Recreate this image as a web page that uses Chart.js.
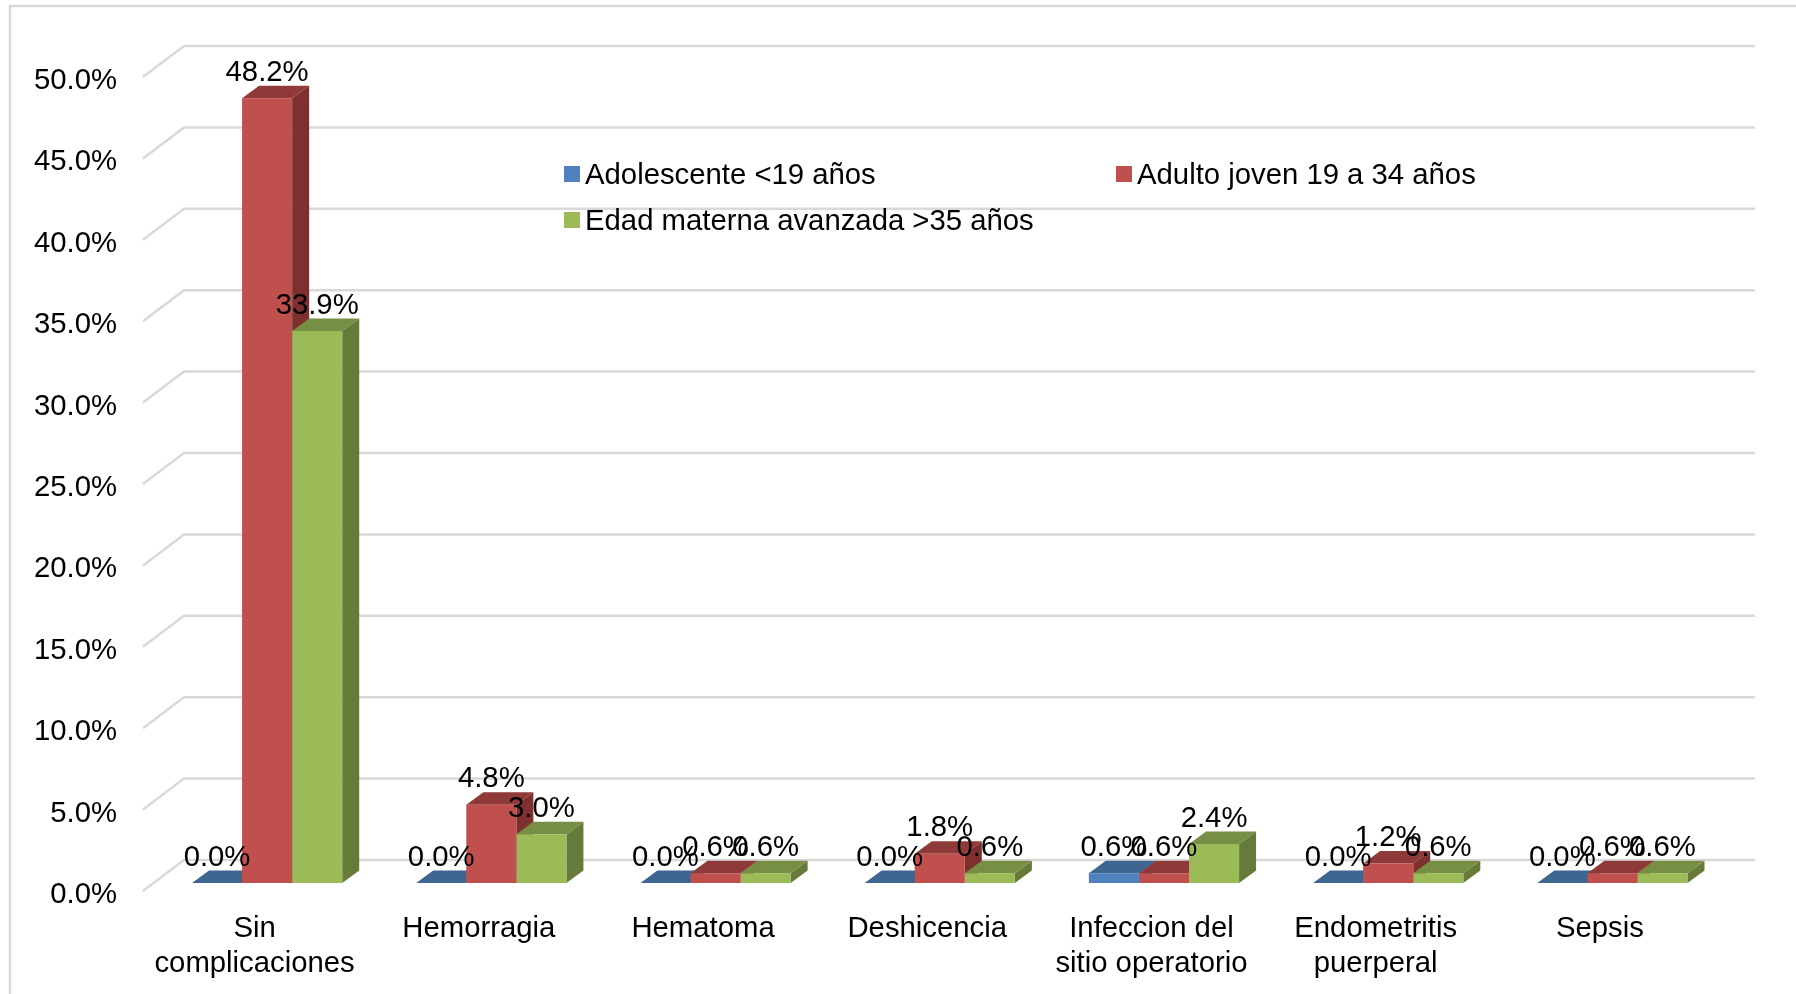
<!DOCTYPE html>
<html>
<head>
<meta charset="utf-8">
<title>Complicaciones por edad materna</title>
<script src="https://cdn.jsdelivr.net/npm/chart.js@4"></script>
<style>
	html, body { margin: 0; background: #fff; }
	#wrap { position: relative; width: 1796px; height: 994px; overflow: hidden; }
	#legend {
		position: absolute; left: 564px; top: 151px;
		display: grid; grid-template-columns: 552px auto; grid-auto-rows: 46px;
		font: 29.3px "Liberation Sans", Arial, sans-serif; color: #000;
	}
	#legend div { display: flex; align-items: center; white-space: nowrap; }
	#legend i { display: block; width: 16px; height: 16px; margin-right: 5px; }
</style>
</head>
<body>
<div id="wrap">
	<canvas id="complicaciones" width="1796" height="994"></canvas>
	<div id="legend"></div>
</div>
<script>
const categorias = [
	["Sin", "complicaciones"],
	"Hemorragia",
	"Hematoma",
	"Deshicencia",
	["Infeccion del", "sitio operatorio"],
	["Endometritis", "puerperal"],
	"Sepsis",
];
const series = ["Adolescente <19 años", "Adulto joven 19 a 34 años", "Edad materna avanzada >35 años"];
const adolescente = [0, 0, 0, 0, 0.6, 0, 0];
const adultoJoven = [48.2, 4.8, 0.6, 1.8, 0.6, 1.2, 0.6];
const avanzada = [33.9, 3.0, 0.6, 0.6, 2.4, 0.6, 0.6];

const frontColor = ["#4f81bd", "#c0504d", "#9bbb59"];
const sideColor = ["#335377", "#7d302e", "#667a3a"];
const topColor = ["#3f6591", "#8f3a38", "#778f45"];
const gridColor = "#d9d9d9";
const FONT = '"Liberation Sans", Arial, sans-serif';

// depth of a bar, and of the floor/wall behind it
const barDX = 17, barDY = 12.5;
const wallLeft = 143, wallDX = 41, wallFront = 8, wallBack = 23, gridRight = 1755;

function pct(v) {
	return v.toFixed(1) + "%";
}

function face(ctx, color, pts) {
	ctx.fillStyle = color;
	ctx.beginPath();
	ctx.moveTo(pts[0][0], pts[0][1]);
	for (var i = 1; i < pts.length; i++) ctx.lineTo(pts[i][0], pts[i][1]);
	ctx.closePath();
	ctx.fill();
}

const frame3d = {
	id: "frame3d",
	beforeDraw: function (chart) {
		const ctx = chart.ctx;
		ctx.save();
		// outer frame of the picture
		ctx.strokeStyle = gridColor;
		ctx.lineWidth = 2.5;
		ctx.beginPath();
		ctx.moveTo(10, 994);
		ctx.lineTo(10, 6);
		ctx.lineTo(1796, 6);
		ctx.stroke();
		// grid lines: short run along the side wall, then the long back wall
		const y = chart.scales.y;
		y.ticks.forEach(function (t) {
			const py = y.getPixelForValue(t.value);
			ctx.beginPath();
			ctx.moveTo(wallLeft, py + wallFront);
			ctx.lineTo(wallLeft + wallDX, py - wallBack);
			ctx.lineTo(gridRight, py - wallBack);
			ctx.stroke();
		});
		ctx.restore();
	},
	beforeDatasetsDraw: function (chart) {
		// side and top faces, left to right so later bars overlap earlier ones
		const ctx = chart.ctx;
		const n = chart.data.labels.length;
		for (var c = 0; c < n; c++) {
			chart.data.datasets.forEach(function (ds, d) {
				const b = chart.getDatasetMeta(d).data[c];
				const l = b.x - b.width / 2, r = b.x + b.width / 2;
				face(ctx, sideColor[d], [[r, b.y], [r + barDX, b.y - barDY], [r + barDX, b.base - barDY], [r, b.base]]);
				face(ctx, topColor[d], [[l, b.y], [l + barDX, b.y - barDY], [r + barDX, b.y - barDY], [r, b.y]]);
			});
		}
	},
	afterDatasetsDraw: function (chart) {
		const ctx = chart.ctx;
		ctx.save();
		ctx.font = "29.3px " + FONT;
		ctx.fillStyle = "#000";
		ctx.textAlign = "center";
		ctx.textBaseline = "middle";
		chart.data.datasets.forEach(function (ds, d) {
			chart.getDatasetMeta(d).data.forEach(function (b, i) {
				ctx.fillText(pct(ds.data[i]), b.x, b.y - 25.5);
			});
		});
		ctx.restore();
	},
};

const myChart = new Chart(document.getElementById("complicaciones"), {
	type: "bar",
	data: {
		labels: categorias,
		datasets: [adolescente, adultoJoven, avanzada].map(function (vals, d) {
			return {
				label: series[d],
				data: vals,
				backgroundColor: frontColor[d],
				borderWidth: 0,
				barPercentage: 1,
				categoryPercentage: 0.67,
			};
		}),
	},
	options: {
		responsive: false,
		animation: false,
		layout: { padding: { top: 69, right: 71.5 } },
		plugins: {
			legend: { display: false },
			tooltip: { enabled: false },
		},
		scales: {
			x: {
				grid: { display: false, drawTicks: false },
				border: { display: false },
				afterFit: function (scale) {
					scale.height = 111;
				},
				ticks: {
					color: "#000",
					font: { size: 29.3, family: FONT, lineHeight: 1.17 },
					padding: 29,
					labelOffset: -12.5,
					maxRotation: 0,
					autoSkip: false,
				},
			},
			y: {
				min: 0,
				max: 50,
				grid: { display: false, drawTicks: false },
				border: { display: false },
				afterFit: function (scale) {
					scale.width = 155;
				},
				ticks: {
					stepSize: 5,
					color: "#000",
					font: { size: 29.3, family: FONT },
					padding: 38,
					labelOffset: 12,
					callback: function (v) {
						return pct(v);
					},
				},
			},
		},
	},
	plugins: [frame3d],
});

// legend sits in two aligned columns, which the built-in one can't do
const legendBox = document.getElementById("legend");
myChart.data.datasets.forEach(function (ds) {
	const item = document.createElement("div");
	const swatch = document.createElement("i");
	swatch.style.background = ds.backgroundColor;
	item.appendChild(swatch);
	item.appendChild(document.createTextNode(ds.label));
	legendBox.appendChild(item);
});
</script>
</body>
</html>
